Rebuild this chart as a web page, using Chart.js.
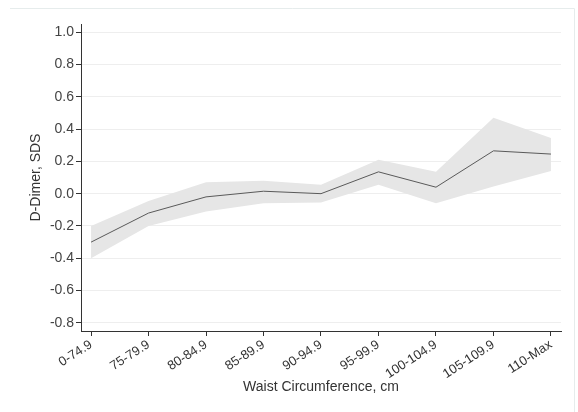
<!DOCTYPE html>
<html>
<head>
<meta charset="utf-8">
<script src="https://cdn.jsdelivr.net/npm/chart.js@4/dist/chart.umd.min.js"></script>
<style>
  html, body { margin: 0; padding: 0; background: #ffffff; }
  #wrap { position: relative; width: 578px; height: 412px; }
</style>
</head>
<body>
<div id="wrap"><canvas id="chart" width="578" height="412"></canvas></div>
<script>
// Waist circumference groups
const categories = ['0-74.9', '75-79.9', '80-84.9', '85-89.9', '90-94.9', '95-99.9', '100-104.9', '105-109.9', '110-Max'];
// D-Dimer SDS estimate and its confidence limits per group
const meanSDS  = [-0.30, -0.12, -0.02, 0.015, 0.00, 0.135, 0.04, 0.265, 0.245];
const upperSDS = [-0.20, -0.045, 0.07, 0.08, 0.055, 0.21, 0.135, 0.47, 0.345];
const lowerSDS = [-0.40, -0.20, -0.11, -0.06, -0.055, 0.055, -0.06, 0.045, 0.14];
// Value axis ticks
const yTicks = [-0.8, -0.6, -0.4, -0.2, 0.0, 0.2, 0.4, 0.6, 0.8, 1.0];

const toPoints = arr => arr.map((v, i) => ({ x: i, y: v }));

// Faint frame along the top and right edges of the page
const framePlugin = {
  id: 'frame',
  beforeDraw(chart) {
    const ctx = chart.ctx;
    ctx.save();
    ctx.strokeStyle = '#e6ecec';
    ctx.lineWidth = 1;
    ctx.beginPath();
    ctx.moveTo(10, 8.5);
    ctx.lineTo(574.5, 8.5);
    ctx.lineTo(574.5, 412);
    ctx.stroke();
    ctx.restore();
  }
};

const family = '"Liberation Sans", Arial, sans-serif';
const xTickFont = { family, size: 13 };
const yTickFont = { family, size: 14 };
const titleFont = { family, size: 14 };

new Chart(document.getElementById('chart'), {
  type: 'line',
  data: {
    datasets: [
      {
        label: 'D-Dimer',
        data: toPoints(meanSDS),
        borderColor: '#5a5a5a',
        borderWidth: 1,
        pointRadius: 0,
        fill: false,
        tension: 0,
        order: 0
      },
      {
        label: 'Upper',
        data: toPoints(upperSDS),
        borderWidth: 0,
        borderColor: 'rgba(0,0,0,0)',
        backgroundColor: '#e6e6e6',
        pointRadius: 0,
        fill: '+1',
        tension: 0,
        order: 1
      },
      {
        label: 'Lower',
        data: toPoints(lowerSDS),
        borderWidth: 0,
        borderColor: 'rgba(0,0,0,0)',
        pointRadius: 0,
        fill: false,
        tension: 0,
        order: 1
      }
    ]
  },
  options: {
    responsive: false,
    animation: false,
    devicePixelRatio: 1,
    layout: { padding: { left: 0, top: 24, right: 17, bottom: 0 } },
    plugins: {
      legend: { display: false },
      tooltip: { enabled: false }
    },
    scales: {
      x: {
        type: 'linear',
        min: -0.175,
        max: 8.175,
        afterBuildTicks(scale) {
          scale.ticks = categories.map((_, i) => ({ value: i }));
        },
        afterFit(scale) { scale.height = 81; },
        border: { display: true, color: '#333333', width: 1 },
        grid: {
          drawOnChartArea: false,
          drawTicks: true,
          tickLength: 5,
          tickColor: '#333333'
        },
        ticks: {
          autoSkip: false,
          maxRotation: 33,
          minRotation: 33,
          padding: 1,
          color: '#333333',
          font: xTickFont,
          callback: v => categories[v]
        },
        title: {
          display: true,
          text: 'Waist Circumference, cm',
          color: '#333333',
          font: titleFont,
          padding: { top: 4, bottom: 16 }
        }
      },
      y: {
        type: 'linear',
        min: -0.85,
        max: 1.05,
        afterBuildTicks(scale) {
          scale.ticks = yTicks.map(v => ({ value: v }));
        },
        afterFit(scale) { scale.width = 81; },
        border: { display: true, color: '#333333', width: 1 },
        grid: {
          color: '#eeeeee',
          lineWidth: 1,
          drawTicks: true,
          tickLength: 5,
          tickColor: '#333333'
        },
        ticks: {
          padding: 2,
          color: '#444444',
          font: yTickFont,
          callback: v => v.toFixed(1)
        },
        title: {
          display: true,
          text: 'D-Dimer, SDS',
          color: '#333333',
          font: titleFont,
          padding: { top: 28, bottom: 0 }
        }
      }
    }
  },
  plugins: [framePlugin]
});
</script>
</body>
</html>
